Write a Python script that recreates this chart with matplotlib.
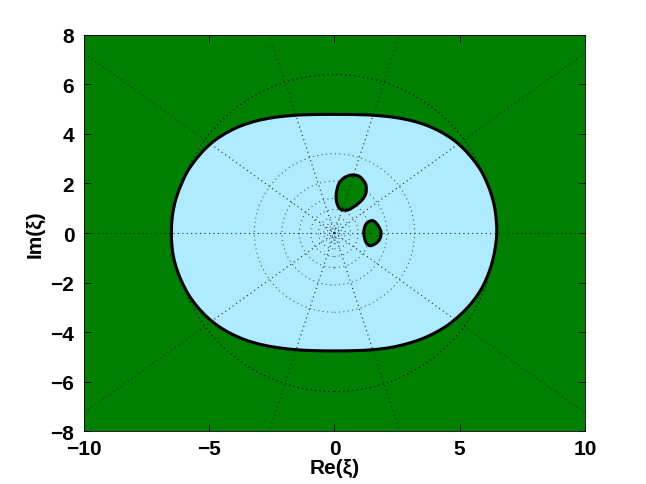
import numpy as np
import matplotlib
matplotlib.use("Agg")
import matplotlib.pyplot as plt
from matplotlib.path import Path
from matplotlib.patches import PathPatch, Circle

# Boundary of the region, counter-clockwise
boundary_x = [6.48, 6.46, 6.40, 6.28, 6.10, 5.86, 5.55, 5.18, 4.75, 4.25, 3.70,
              3.10, 2.45, 1.75, 1.00, 0.0, -1.00, -1.75, -2.45, -3.10, -3.70,
              -4.25, -4.75, -5.18, -5.55, -5.86, -6.10, -6.29, -6.42, -6.49,
              -6.51,
              -6.49, -6.42, -6.28, -6.08, -5.82, -5.48, -5.08, -4.62, -4.10,
              -3.52, -2.90, -2.25, -1.55, -0.80, 0.0, 0.80, 1.55, 2.25, 2.90,
              3.50, 4.05, 4.55, 4.98, 5.35, 5.68, 5.95, 6.17, 6.33, 6.43]
boundary_y = [0.0, 0.50, 1.00, 1.50, 2.00, 2.50, 2.95, 3.38, 3.76, 4.08, 4.34,
              4.53, 4.66, 4.74, 4.78, 4.79, 4.78, 4.74, 4.66, 4.53, 4.34,
              4.08, 3.76, 3.38, 2.95, 2.50, 2.00, 1.50, 1.00, 0.50,
              0.0,
              -0.50, -1.00, -1.50, -2.00, -2.50, -2.97, -3.40, -3.77, -4.08,
              -4.33, -4.51, -4.63, -4.71, -4.75, -4.76, -4.75, -4.71, -4.62,
              -4.47, -4.27, -4.01, -3.70, -3.34, -2.97, -2.55, -2.10, -1.58,
              -1.05, -0.52]

# Two small islands inside the region
blob1_x = [0.67, 1.00, 1.24, 1.26, 1.13, 0.87, 0.53, 0.23, 0.09, 0.07, 0.17, 0.37]
blob1_y = [2.34, 2.28, 1.98, 1.64, 1.37, 1.13, 0.93, 0.97, 1.24, 1.58, 1.98, 2.22]
blob2_x = [1.50, 1.70, 1.86, 1.77, 1.46, 1.26, 1.17, 1.26]
blob2_y = [0.50, 0.36, 0.03, -0.31, -0.51, -0.38, 0.0, 0.36]

# Dotted polar grid
inner_radii = [3.2, 2.1, 1.4, 0.95, 0.64, 0.43, 0.29, 0.19, 0.13]
outer_radii = [6.4]
spoke_angles = [0, 36, 72, 108, 144, 180, 216, 252, 288, 324]

xticks = [-10, -5, 0, 5, 10]
yticks = [-8, -6, -4, -2, 0, 2, 4, 6, 8]

GREEN = "#008000"
LIGHT_BLUE = "#AEEBFF"


def closed_curve(xs, ys):
    # smooth closed outline through the read points (Catmull-Rom -> Bezier)
    pts = np.column_stack([xs, ys])
    n = len(pts)
    verts = [pts[0]]
    codes = [Path.MOVETO]
    for i in range(n):
        p0, p1, p2, p3 = pts[i - 1], pts[i], pts[(i + 1) % n], pts[(i + 2) % n]
        verts += [p1 + (p2 - p0) / 6, p2 - (p3 - p1) / 6, p2]
        codes += [Path.CURVE4] * 3
    verts.append(pts[0])
    codes.append(Path.CLOSEPOLY)
    return Path(verts, codes)


plt.rcParams["font.family"] = ["Liberation Sans", "DejaVu Sans"]
plt.rcParams["font.weight"] = "bold"

fig = plt.figure(figsize=(6.46, 4.85), dpi=100)
ax = fig.add_axes([0.13, 0.109, 0.7755, 0.817])
ax.set_facecolor(GREEN)

dots = dict(linestyle=(0, (1, 3)), linewidth=0.8)

# outer grid rings (only visible outside the region)
for r in outer_radii:
    ax.add_patch(Circle((0, 0), r, fill=False, edgecolor="k", zorder=1, **dots))

# region
ax.add_patch(PathPatch(closed_curve(boundary_x, boundary_y), facecolor=LIGHT_BLUE,
                       edgecolor="k", linewidth=2.2, zorder=2))

# inner grid rings
for r in inner_radii:
    ax.add_patch(Circle((0, 0), r, fill=False, edgecolor="0.35", zorder=3, **dots))

# islands
for bx, by in [(blob1_x, blob1_y), (blob2_x, blob2_y)]:
    ax.add_patch(PathPatch(closed_curve(bx, by), facecolor=GREEN,
                           edgecolor="k", linewidth=2.2, zorder=4))

# spokes
for a in spoke_angles:
    t = np.deg2rad(a)
    ax.plot([0, 20 * np.cos(t)], [0, 20 * np.sin(t)], color="0.15", zorder=5, **dots)

ax.set_xlim(-10, 10)
ax.set_ylim(-8, 8)
ax.set_xticks(xticks)
ax.set_yticks(yticks)
ax.tick_params(direction="in", top=True, right=True, length=5, width=0.6,
               labelsize=15)
ax.tick_params(axis="y", pad=7)
ax.tick_params(axis="x", pad=6)
for s in ax.spines.values():
    s.set_linewidth(0.6)
    s.set_zorder(6)

ax.set_xlabel("Re(ξ)", fontsize=15, fontweight="bold", labelpad=0)
ax.set_ylabel("Im(ξ)", fontsize=15, fontweight="bold", labelpad=4)

fig.savefig("out.png", dpi=100)
